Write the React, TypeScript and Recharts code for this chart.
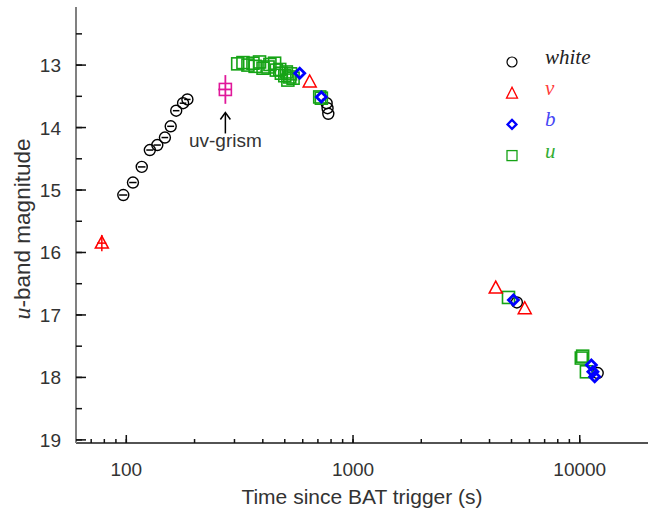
import React from 'react'
import { ScatterChart, Scatter, XAxis, YAxis, ErrorBar, Legend } from 'recharts'

// light curve points: time since trigger (s) and u-band magnitude
const whiteTime = [97, 107, 117, 127, 137, 148, 157, 166, 178, 186, 765, 772, 778, 5280, 12000]
const whiteMag = [15.08, 14.88, 14.63, 14.36, 14.28, 14.16, 13.98, 13.73, 13.61, 13.55, 13.61, 13.69, 13.78, 16.8, 17.93]
const whiteTimeErr = [4, 4, 4.5, 4.5, 5, 5, 5.5, 5.5, 6, 6, 0, 0, 0, 0, 0]

const vTime = [78, 644, 4260, 5720]
const vMag = [15.85, 13.27, 16.57, 16.9]
const vMagErr = [0.13, 0, 0, 0]
const vTimeErr = [3.6, 0, 0, 0]

const bTime = [582, 725, 5100, 11250, 11430, 11640]
const bMag = [13.13, 13.51, 16.76, 17.8, 17.91, 17.99]

const uTime = [310, 327, 344, 362, 370, 387, 401, 422, 430, 451, 459, 475, 483, 500, 508, 516, 526, 530, 544, 713, 725, 4850, 10160, 10300, 10700]
const uMag = [12.98, 12.96, 13.0, 12.97, 13.02, 12.95, 13.05, 13.03, 12.99, 12.97, 13.08, 13.07, 13.13, 13.17, 13.11, 13.24, 13.19, 13.14, 13.21, 13.51, 13.53, 16.72, 17.69, 17.66, 17.91]

const grismTime = [273.5]
const grismMag = [13.39]
const grismMagErr = [0.23]
const grismTimeErr = [19]

const xTicks = [70, 80, 90, 100, 200, 300, 400, 500, 600, 700, 800, 900, 1000, 2000, 3000, 4000, 5000, 6000, 7000, 8000, 9000, 10000]
const xMajor = [100, 1000, 10000]
const yTicks = [12.5, 13, 13.5, 14, 14.5, 15, 15.5, 16, 16.5, 17, 17.5, 18, 18.5, 19]

const whiteData = whiteTime.map((t, i) => ({ t, m: whiteMag[i], te: whiteTimeErr[i] }))
const vData = vTime.map((t, i) => ({ t, m: vMag[i], me: vMagErr[i], te: vTimeErr[i] }))
const bData = bTime.map((t, i) => ({ t, m: bMag[i] }))
const uData = uTime.map((t, i) => ({ t, m: uMag[i] }))
const grismData = grismTime.map((t, i) => ({ t, m: grismMag[i], me: grismMagErr[i], te: grismTimeErr[i] }))

const SANS = '"Liberation Sans", Arial, Helvetica, sans-serif'
const SERIF = '"Liberation Serif", "Times New Roman", serif'
const TXT = '#333'
const TICK = '#111'

const RED = '#ff0000'
const BLUE = '#0000ff'
const GREEN = '#16a316'
const PINK = '#e0189a'

// the axis' own tick line gives the short (minor) mark; majors get an extra piece here
function BottomTick({ x, y, payload }: any) {
  const major = xMajor.includes(payload.value)
  return (
    <g>
      {major && <rect x={x - 0.75} y={y - 8} width={1.5} height={8} fill={TICK} />}
      {major && (
        <text x={x} y={y + 33} textAnchor="middle" fontSize={19} fontFamily={SANS} fill={TXT}>
          {payload.value}
        </text>
      )}
    </g>
  )
}

function TopTick({ x, y, payload }: any) {
  const major = xMajor.includes(payload.value)
  return <g>{major && <rect x={x - 0.75} y={y} width={1.5} height={8} fill={TICK} />}</g>
}

function LeftTick({ x, y, payload }: any) {
  const major = Number.isInteger(payload.value)
  return (
    <g>
      {major && <rect x={x} y={y - 0.75} width={10} height={1.5} fill={TICK} />}
      {major && (
        <text x={x - 15} y={y + 7} textAnchor="end" fontSize={19} fontFamily={SANS} fill={TXT}>
          {payload.value}
        </text>
      )}
    </g>
  )
}

function RightTick({ x, y, payload }: any) {
  const major = Number.isInteger(payload.value)
  return <g>{major && <rect x={x - 10} y={y - 0.75} width={10} height={1.5} fill={TICK} />}</g>
}

function XTitle({ viewBox }: any) {
  return (
    <text x={viewBox.x + viewBox.width / 2} y={viewBox.y + 61} textAnchor="middle" fontSize={21} fontFamily={SANS} fill={TXT}>
      Time since BAT trigger (s)
    </text>
  )
}

function YTitle({ viewBox }: any) {
  const cx = 22
  const cy = viewBox.y + viewBox.height / 2 + 4
  return (
    <text x={cx} y={cy} transform={`rotate(-90, ${cx}, ${cy})`} textAnchor="middle" dominantBaseline="central" fontSize={22.5} fontFamily={SANS} fill={TXT}>
      <tspan fontFamily={SERIF} fontStyle="italic" fontSize={24}>u</tspan>
      <tspan>-band magnitude</tspan>
    </text>
  )
}

const circleShape = (p: any) => <circle cx={p.cx} cy={p.cy} r={5.5} fill="none" stroke="#000" strokeWidth={1.4} />
const triShape = (p: any) => (
  <polygon points={`${p.cx},${p.cy - 7} ${p.cx - 6.5},${p.cy + 5} ${p.cx + 6.5},${p.cy + 5}`} fill="none" stroke={RED} strokeWidth={1.5} />
)
const diamondShape = (p: any) => (
  <polygon points={`${p.cx},${p.cy - 5} ${p.cx + 5},${p.cy} ${p.cx},${p.cy + 5} ${p.cx - 5},${p.cy}`} fill="none" stroke={BLUE} strokeWidth={2.8} />
)
const squareShape = (p: any) => <rect x={p.cx - 6} y={p.cy - 6} width={12} height={12} fill="none" stroke={GREEN} strokeWidth={1.6} />
const grismShape = (p: any) => (
  <g>
    <rect x={p.cx - 6} y={p.cy - 6} width={12} height={12} fill="none" stroke={PINK} strokeWidth={1.6} />
    <line x1={p.cx} x2={p.cx} y1={p.cy + 44} y2={p.cy + 24} stroke="#000" strokeWidth={1.5} />
    <polyline points={`${p.cx - 5},${p.cy + 30} ${p.cx},${p.cy + 23} ${p.cx + 5},${p.cy + 30}`} fill="none" stroke="#000" strokeWidth={1.5} />
    <text x={p.cx} y={p.cy + 58} textAnchor="middle" fontSize={19} fontFamily={SANS} fill={TXT}>
      uv-grism
    </text>
  </g>
)

const legendItems = [
  { label: 'white', color: '#222', kind: 'circle' },
  { label: 'v', color: '#ff3c3c', kind: 'tri' },
  { label: 'b', color: '#4646f5', kind: 'diamond' },
  { label: 'u', color: '#34ad34', kind: 'square' },
]

function LegendBox() {
  return (
    <svg width={140} height={130} style={{ display: 'block' }}>
      {legendItems.map((it, i) => {
        const cx = 17
        const cy = 16 + i * 31.2
        let sym
        if (it.kind === 'circle') sym = <circle cx={cx} cy={cy} r={5} fill="none" stroke="#000" strokeWidth={1.2} />
        else if (it.kind === 'tri')
          sym = <polygon points={`${cx},${cy - 6} ${cx - 5.5},${cy + 5} ${cx + 5.5},${cy + 5}`} fill="none" stroke={RED} strokeWidth={1.3} />
        else if (it.kind === 'diamond')
          sym = <polygon points={`${cx},${cy - 4.5} ${cx + 4.5},${cy} ${cx},${cy + 4.5} ${cx - 4.5},${cy}`} fill="none" stroke={BLUE} strokeWidth={2.2} />
        else sym = <rect x={cx - 5} y={cy - 5} width={10} height={10} fill="none" stroke={GREEN} strokeWidth={1.3} />
        return (
          <g key={it.label}>
            {sym}
            <text x={50} y={cy + 2} fontSize={21} fontFamily={SERIF} fontStyle="italic" fill={it.color}>
              {it.label}
            </text>
          </g>
        )
      })}
    </svg>
  )
}

const tickLineStyle = { stroke: TICK, strokeWidth: 1.5 }

export default function App() {
  return (
    <div style={{ position: 'absolute', left: 0, top: 0, background: '#fff' }}>
      <ScatterChart width={659} height={511} margin={{ top: 7, right: 11, bottom: 0, left: 0 }}>
        <XAxis
          xAxisId="b"
          dataKey="t"
          type="number"
          scale="log"
          domain={[60, 20000]}
          allowDataOverflow
          ticks={xTicks}
          interval={0}
          height={68}
          tickSize={-4}
          tickMargin={4}
          tickLine={tickLineStyle}
          tick={BottomTick}
          axisLine={{ stroke: '#1a1a1a', strokeWidth: 1.3 }}
          label={<XTitle />}
        />
        <XAxis
          xAxisId="top"
          orientation="top"
          type="number"
          scale="log"
          domain={[60, 20000]}
          allowDataOverflow
          ticks={xTicks}
          interval={0}
          height={0}
          tickSize={-5}
          tickMargin={5}
          tickLine={tickLineStyle}
          tick={TopTick}
          axisLine={{ stroke: '#808080', strokeWidth: 2 }}
        />
        <YAxis
          yAxisId="l"
          dataKey="m"
          type="number"
          reversed
          domain={[12.07, 19.05]}
          allowDataOverflow
          ticks={yTicks}
          interval={0}
          width={76}
          tickSize={-6}
          tickMargin={6}
          tickLine={tickLineStyle}
          tick={LeftTick}
          axisLine={{ stroke: '#808080', strokeWidth: 2 }}
          label={<YTitle />}
        />
        <YAxis
          yAxisId="r"
          orientation="right"
          type="number"
          reversed
          domain={[12.07, 19.05]}
          allowDataOverflow
          ticks={yTicks}
          interval={0}
          width={0}
          tickSize={-6}
          tickMargin={6}
          tickLine={tickLineStyle}
          tick={RightTick}
          axisLine={{ stroke: '#1a1a1a', strokeWidth: 1.3 }}
        />
        <Scatter xAxisId="b" yAxisId="l" data={whiteData} shape={circleShape} isAnimationActive={false}>
          <ErrorBar dataKey="te" direction="x" width={0} stroke="#000" strokeWidth={1.5} />
        </Scatter>
        <Scatter xAxisId="b" yAxisId="l" data={uData} shape={squareShape} isAnimationActive={false} />
        <Scatter xAxisId="b" yAxisId="l" data={bData} shape={diamondShape} isAnimationActive={false} />
        <Scatter xAxisId="b" yAxisId="l" data={vData} shape={triShape} isAnimationActive={false}>
          <ErrorBar dataKey="me" direction="y" width={0} stroke={RED} strokeWidth={1.5} />
          <ErrorBar dataKey="te" direction="x" width={0} stroke={RED} strokeWidth={1.5} />
        </Scatter>
        <Scatter xAxisId="b" yAxisId="l" data={grismData} shape={grismShape} isAnimationActive={false}>
          <ErrorBar dataKey="me" direction="y" width={0} stroke={PINK} strokeWidth={1.8} />
          <ErrorBar dataKey="te" direction="x" width={0} stroke={PINK} strokeWidth={1.8} />
        </Scatter>
        <Legend
          layout="vertical"
          align="center"
          verticalAlign="middle"
          wrapperStyle={{ left: 495, top: 46, width: 140, height: 130 }}
          content={() => <LegendBox />}
        />
      </ScatterChart>
    </div>
  )
}
